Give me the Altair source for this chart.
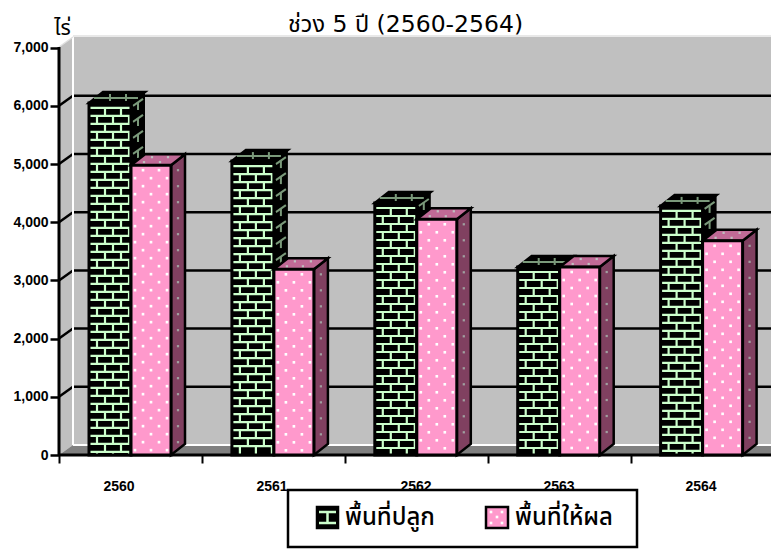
import altair as alt
import pandas as pd

years = ["2560", "2561", "2562", "2563", "2564"]
planted = [6050, 5050, 4330, 3230, 4280]
bearing = [4980, 3190, 4050, 3230, 3680]
y_ticks = [0, 1000, 2000, 3000, 4000, 5000, 6000, 7000]
label_px = [119, 272, 416, 559, 701]
title_text = "ช่วง 5 ปี (2560-2564)"
unit_text = "ไร่"
legend_names = ["พื้นที่ปลูก", "พื้นที่ให้ผล"]

THAI = "Noto Sans Thai, Noto Sans, Noto Sans CJK SC, sans-serif"
TITLE_FONT = "DejaVu Sans, Noto Sans Thai, Noto Sans, sans-serif"
LATIN = "Liberation Sans, Arial, sans-serif"

W, H = 763, 541
RIGHT = 8 + W
X0, Y0, SLOT, K = 59.0, 455.0, 142.9, 0.0582
DX, DY = 14, 11

def X(px): return (px - X0) / SLOT
def V(py): return (Y0 - py) / K
def PY(v): return Y0 - v * K

xs = alt.Scale(domain=[X(8), X(RIGHT)], nice=False, zero=False)
ys = alt.Scale(domain=[V(8 + H), V(8)], nice=False, zero=False)

AX = alt.Axis(values=[0, 1, 2, 3, 4, 5], labels=False, domain=False, grid=False, tickSize=8,
              tickWidth=2, tickColor="black", offset=-94, title=None)
AY = alt.Axis(values=y_ticks, labelExpr="format(datum.value, ',')", domain=False, grid=False, tickSize=9, tickWidth=2.5,
              tickColor="black", offset=-51, labelFont=LATIN, labelFontWeight="bold", labelFontSize=14,
              labelColor="black", labelPadding=2, title=unit_text, titleFont=THAI, titleFontSize=21,
              titleFontWeight="normal", titleAngle=0, titleX=3, titleY=30, titleColor="black")

def xe(f="x"): return alt.X(f"{f}:Q", scale=xs, axis=AX)
def ye(f="y"): return alt.Y(f"{f}:Q", scale=ys, axis=AY, stack=None)

def rules(rows, color, w=2.0):
    df = pd.DataFrame([dict(x=X(a), y=V(b), x2=X(c), y2=V(d)) for a, b, c, d in rows])
    return alt.Chart(df).mark_rule(color=color, strokeWidth=w).encode(
        x=xe(), y=ye(), x2="x2:Q", y2="y2:Q")

def rects(rows, fill, stroke=None, w=0):
    df = pd.DataFrame([dict(x=X(a), y=V(b), x2=X(c), y2=V(d)) for a, b, c, d in rows])
    kw = dict(stroke=stroke, strokeWidth=w) if stroke else dict(strokeWidth=0)
    return alt.Chart(df).mark_rect(fill=fill, **kw).encode(
        x=xe(), y=ye(), x2="x2:Q", y2="y2:Q")

def outlines(rows, w=3):
    df = pd.DataFrame([dict(x=X(a), y=V(b), x2=X(c), y2=V(d)) for a, b, c, d in rows])
    return alt.Chart(df).mark_rect(fillOpacity=0, stroke="black", strokeWidth=w).encode(
        x=xe(), y=ye(), x2="x2:Q", y2="y2:Q")

def areas(polys, fill, stroke=None, w=0):
    rows = []
    for g, pts in enumerate(polys):
        for a, b, c in pts:
            rows.append(dict(x=X(a), y=V(b), y2=V(c), g=g))
    kw = dict(stroke=stroke, strokeWidth=w) if stroke else dict(strokeWidth=0)
    return alt.Chart(pd.DataFrame(rows)).mark_area(fill=fill, orient="vertical", **kw).encode(
        x=xe(), y=ye(), y2="y2:Q", detail="g:N")

def dots(pts, color, size=5):
    df = pd.DataFrame([dict(x=X(a), y=V(b)) for a, b in pts])
    return alt.Chart(df).mark_square(color=color, size=size, opacity=1, strokeWidth=0).encode(x=xe(), y=ye())

def top_poly(x0, x1, t):
    return [(x0, t, t), (x0 + DX, t - DY, t), (x1, t - DY, t), (x1 + DX, t - DY, t - DY)]

def side_poly(x1, t, b=Y0):
    return [(x1, t, b), (x1 + DX, t - DY, b - DY)]

def brick_rules(x0, x1, t, b):
    hs, vs = [], []
    row, y = 0, t + 5
    while y < b - 1:
        hs.append((x0 + 1, y, x1 - 1, y))
        ny = min(y + 8, b - 1)
        xx = x0 + (8 if row % 2 else 16)
        while xx < x1 - 1:
            vs.append((xx, y, xx, ny))
            xx += 16
        row += 1
        y += 8
    return hs + vs

def dot_pts(x0, x1, t, b):
    pts, row, y = [], 0, t + 5
    while y < b - 2:
        xx = x0 + (4 if row % 2 else 12)
        while xx < x1 - 1:
            pts.append((xx, y))
            xx += 16
        row += 1
        y += 8
    return pts

centers = [130 + SLOT * i for i in range(len(years))]

layers = []
layers.append(rects([(73, 37, RIGHT, 445)], "#c0c0c0"))

# left wall and floor
layers.append(areas([[(59, 47, 455), (73, 37, 445)]], "#c0c0c0"))
layers.append(areas([[(59, 455, 455), (73, 445, 455), (RIGHT, 445, 455)]], "#808080"))

# grid lines, wall edges
grid_vals = [v for v in y_ticks if 0 < v < 7000]
layers.append(rules([(73, PY(v) - 10, RIGHT, PY(v) - 10) for v in grid_vals], "black", 2.5))
layers.append(rules([(59, PY(v), 73, PY(v) - 10) for v in grid_vals], "black", 2.5))
layers.append(rules([(73, 37, 73, 445), (73, 445, RIGHT, 445)], "white", 2))
layers.append(rules([(59, 47, 73, 37), (73, 36, RIGHT, 36)], "#e0e0e0", 1.5))
layers.append(rules([(59, 47, 59, 455), (59, 455, RIGHT, 455)], "black", 3))

# planted bars
g_front = [(c - 41, PY(v), c + 1, Y0) for c, v in zip(centers, planted)]
layers.append(areas([side_poly(c + 1, PY(v)) for c, v in zip(centers, planted)], "black"))
g_side = []
for c, v in zip(centers, planted):
    t = PY(v)
    y = t + 3
    while y < Y0 - 6:
        g_side.append((c + 3, y, c + 13, y - 7))
        y += 16
        g_side.append((c + 8, y - 12, c + 8, y - 20))
layers.append(rules(g_side, "#7a997a", 2))
layers.append(areas([top_poly(c - 41, c + 1, PY(v)) for c, v in zip(centers, planted)], "black", "black", 2.5))
g_top = []
for c, v in zip(centers, planted):
    t = PY(v)
    g_top.append((c - 36, t - 5, c + 8, t - 5))
    g_top += [(c - 20, t - 9, c - 20, t - 2), (c - 4, t - 9, c - 4, t - 2)]
layers.append(rules(g_top, "#7a997a", 2))
layers.append(rects(g_front, "black"))
bricks = []
for r in g_front:
    bricks += brick_rules(r[0], r[2], r[1], r[3])
layers.append(rules(bricks, "#ccffcc", 2.2))
layers.append(outlines(g_front))

# bearing bars
p_front = [(c + 1, PY(v), c + 41, Y0) for c, v in zip(centers, bearing)]
layers.append(areas([side_poly(c + 41, PY(v)) for c, v in zip(centers, bearing)], "#804060", "black", 2.5))
side_dots = []
for c, v in zip(centers, bearing):
    t = PY(v)
    y = t + 5
    while y < Y0 - 12:
        side_dots.append((c + 48, y))
        y += 16
layers.append(dots(side_dots, "#a0a0a0", 5))
layers.append(areas([top_poly(c + 1, c + 41, PY(v)) for c, v in zip(centers, bearing)], "#c06a96", "black", 2.5))
top_dots = []
for c, v in zip(centers, bearing):
    t = PY(v)
    top_dots += [(c + 14, t - 3), (c + 30, t - 3), (c + 22, t - 8), (c + 38, t - 8)]
layers.append(dots(top_dots, "#c0c0c0", 5))
layers.append(rects(p_front, "#ff99cc"))
pd_pts = []
for r in p_front:
    pd_pts += dot_pts(r[0], r[2], r[1], r[3])
layers.append(dots(pd_pts, "white", 7))
layers.append(outlines(p_front))

# category labels
lab_df = pd.DataFrame({"x": [X(p) for p in label_px], "y": [V(487)] * len(years), "t": years})
layers.append(alt.Chart(lab_df).mark_text(font=LATIN, fontWeight="bold", fontSize=14, color="black").encode(
    x=xe(), y=ye(), text="t:N"))

# legend
layers.append(rects([(288, 490, 637, 547)], "white", "black", 2.5))
sw_g = (317, 507, 338, 528)
sw_p = (486, 507, 508, 528)
layers.append(rects([sw_g], "black"))
layers.append(rules([(319, 512, 336, 512), (319, 523, 336, 523), (327.5, 512, 327.5, 523)], "#ccffcc", 2.5))
layers.append(outlines([sw_g], 2.5))
layers.append(rects([sw_p], "#ff99cc"))
layers.append(dots([(491, 512), (502, 512), (497, 517), (491, 523), (502, 523)], "white", 7))
layers.append(outlines([sw_p], 2.5))
leg_df = pd.DataFrame({"x": [X(345), X(515)], "y": [V(518)] * 2, "t": legend_names})
layers.append(alt.Chart(leg_df).mark_text(font=THAI, fontWeight=500, fontSize=24, color="black", align="left").encode(
    x=xe(), y=ye(), text="t:N"))

chart = alt.layer(*layers).properties(
    width=W, height=H, padding=0, autosize=alt.AutoSizeParams(type="none"),
    title=alt.TitleParams(title_text, font=TITLE_FONT, fontSize=23.5, fontWeight="normal", color="black",
                          anchor="middle", dx=16, dy=28, offset=0),
).configure_view(stroke=None)

chart.save("out.html", embed_options={"renderer": "svg", "actions": False})
